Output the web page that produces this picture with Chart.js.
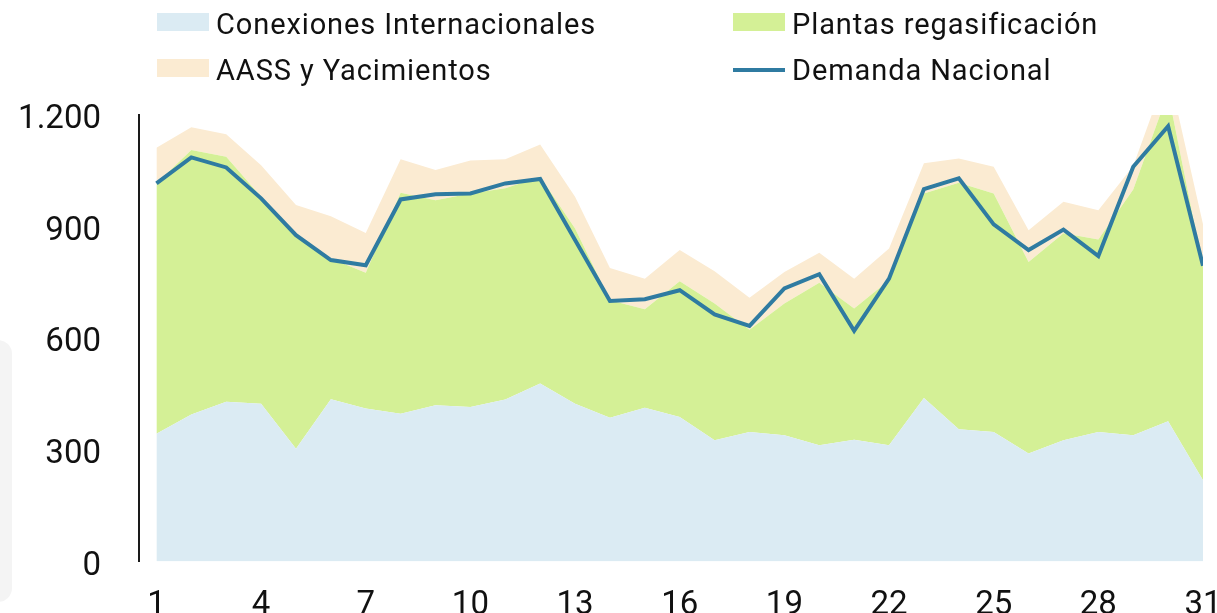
<!DOCTYPE html>
<html lang="es">
<head>
<meta charset="utf-8">
<title>Cobertura de la demanda de gas</title>
<script src="https://cdn.jsdelivr.net/npm/chart.js@4.4.1/dist/chart.umd.min.js"></script>
<style>
  html, body { margin: 0; padding: 0; background: #fff; overflow: hidden; }
  #wrap { position: relative; width: 1217px; height: 651px; }
  #blob { position: absolute; left: -30px; top: 340px; width: 42px; height: 262px; border-radius: 14px; background: #f4f4f4; }
  #legend { position: absolute; left: 0; top: 0; font-family: Roboto, sans-serif; font-size: 29px; letter-spacing: 0.9px; color: #111; }
  .item { position: absolute; white-space: nowrap; line-height: 29px; }
  .sw { position: absolute; }
</style>
</head>
<body>
<div id="wrap">
  <div id="blob"></div>
  <canvas id="chartGas"></canvas>
  <div id="legend"></div>
</div>
<script>
const dias = [1, 2, 3, 4, 5, 6, 7, 8, 9, 10, 11, 12, 13, 14, 15, 16, 17, 18, 19, 20, 21, 22, 23, 24, 25, 26, 27, 28, 29, 30, 31];
const ticksX = [1, 4, 7, 10, 13, 16, 19, 22, 25, 28, 31];

const conexiones = [343, 395, 429, 424, 303, 436, 411, 397, 420, 415, 435, 478, 424, 386, 413, 388,
    326, 348, 339, 312, 327, 312, 439, 355, 348, 290, 326, 348, 339, 377, 218];
const regasificacion = [673, 711, 659, 556, 574, 378, 365, 594, 551, 574, 568, 556, 471, 316, 265, 365,
    367, 275, 354, 437, 353, 444, 550, 663, 641, 515, 556, 517, 661, 883, 574];
const aass = [96, 61, 60, 85, 81, 114, 107, 90, 81, 89, 78, 87, 85, 87, 82, 84,
    87, 86, 85, 81, 80, 85, 81, 65, 72, 85, 85, 79, 63, 62, 114];
const demanda = [1016, 1086, 1059, 976, 877, 810, 796, 973, 987, 989, 1016, 1028, 864, 700, 705, 729,
    664, 633, 734, 772, 620, 760, 1001, 1030, 906, 837, 892, 821, 1061, 1170, 795];

function puntos(valores) {
    return valores.map((v, i) => ({ x: dias[i], y: v }));
}

const fuente = { family: "Roboto, sans-serif", size: 33 };

const dataGas = {
    datasets: [
        {
            label: "Conexiones Internacionales",
            data: puntos(conexiones),
            backgroundColor: "#dbebf3",
            borderWidth: 0,
            fill: "origin",
            stack: "oferta",
            legendType: "box",
        },
        {
            label: "Plantas regasificación",
            data: puntos(regasificacion),
            backgroundColor: "#d4f096",
            borderWidth: 0,
            fill: "-1",
            stack: "oferta",
            legendType: "box",
        },
        {
            label: "AASS y Yacimientos",
            data: puntos(aass),
            backgroundColor: "#fbebd2",
            borderWidth: 0,
            fill: "-1",
            stack: "oferta",
            legendType: "box",
        },
        {
            label: "Demanda Nacional",
            data: puntos(demanda),
            borderColor: "#2f7ba1",
            borderWidth: 4,
            fill: false,
            stack: "demanda",
            legendType: "line",
            order: -1,
        },
    ],
};

const configGas = {
    type: "line",
    data: dataGas,
    options: {
        responsive: true,
        maintainAspectRatio: false,
        animation: false,
        elements: { point: { radius: 0 }, line: { tension: 0 } },
        layout: { padding: { left: 18, right: 14, top: 115, bottom: 0 } },
        plugins: { legend: { display: false }, tooltip: { enabled: false } },
        scales: {
            x: {
                type: "linear",
                min: 0.5,
                max: 31,
                grid: { display: false, drawTicks: false },
                border: { display: false },
                afterBuildTicks: (scale) => {
                    scale.ticks = ticksX.map((v) => ({ value: v }));
                },
                afterFit: (scale) => {
                    scale.paddingLeft = 0;
                    scale.paddingRight = 0;
                },
                ticks: {
                    autoSkip: false,
                    maxRotation: 0,
                    padding: 25,
                    color: "#111",
                    font: fuente,
                    callback: (v) => String(v),
                },
            },
            y: {
                stacked: true,
                min: 0,
                max: 1200,
                grid: { display: false, drawTicks: false },
                border: { display: true, color: "#1a1a1a", width: 2 },
                afterFit: (scale) => {
                    scale.width = 121;
                },
                ticks: {
                    stepSize: 300,
                    padding: 38,
                    labelOffset: 5,
                    color: "#111",
                    font: fuente,
                    callback: (v) => v >= 1000 ? Math.floor(v / 1000) + "." + String(v % 1000).padStart(3, "0") : String(v),
                },
            },
        },
    },
};

const chartGas = new Chart(document.getElementById("chartGas"), configGas);

// leyenda en dos columnas, como en el original
const legend = document.getElementById("legend");
chartGas.data.datasets.forEach((ds, i) => {
    const col = i % 2;
    const row = Math.floor(i / 2);
    const item = document.createElement("div");
    item.className = "item";
    item.style.left = (col ? 792 : 216) + "px";
    item.style.top = (row ? 56 : 10) + "px";
    item.textContent = ds.label;
    const sw = document.createElement("span");
    sw.className = "sw";
    sw.style.left = "-59px";
    sw.style.width = "52px";
    if (ds.legendType === "line") {
        sw.style.top = "12px";
        sw.style.height = "4px";
        sw.style.background = ds.borderColor;
    } else {
        sw.style.top = "3px";
        sw.style.height = "18px";
        sw.style.background = ds.backgroundColor;
    }
    item.appendChild(sw);
    legend.appendChild(item);
});
</script>
</body>
</html>
